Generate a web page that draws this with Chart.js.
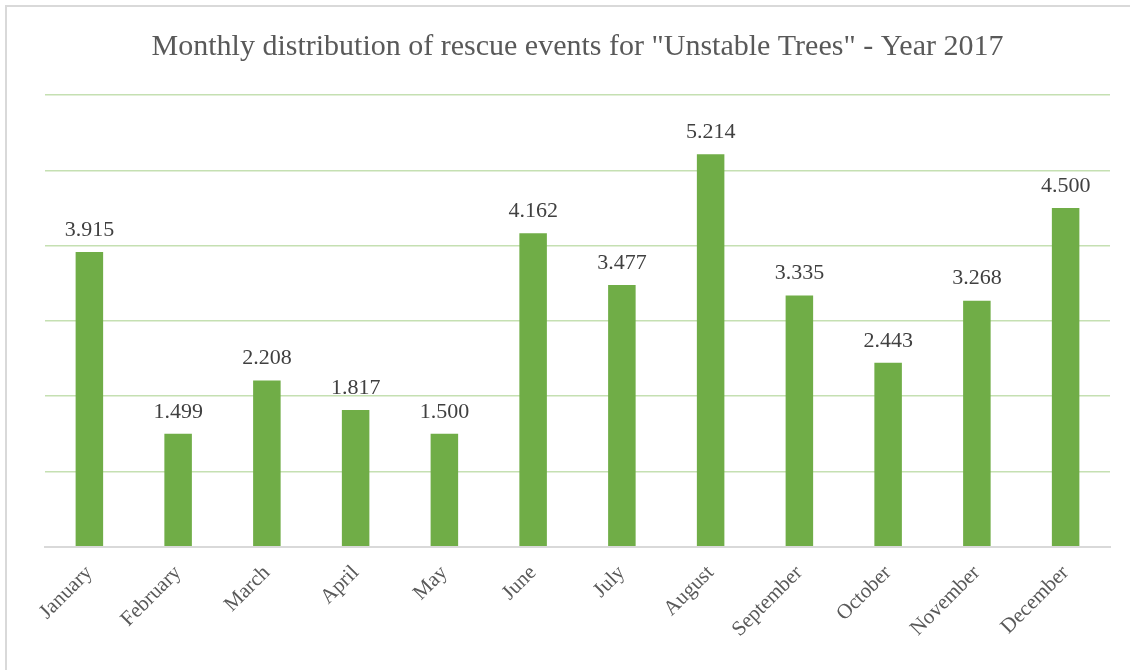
<!DOCTYPE html>
<html>
<head>
<meta charset="utf-8">
<script src="https://cdn.jsdelivr.net/npm/chart.js@4/dist/chart.umd.min.js"></script>
<style>
  html, body { margin: 0; padding: 0; background: #fff; }
  #wrap { position: relative; width: 1130px; height: 670px; }
  #frame { position: absolute; left: 5px; top: 5px; right: 0; bottom: 0; border-left: 2px solid #d9d9d9; border-top: 2px solid #d9d9d9; }
</style>
</head>
<body>
<div id="wrap">
  <div id="frame"></div>
  <canvas id="myChart" width="1130" height="670"></canvas>
</div>
<script>
const months = ['January', 'February', 'March', 'April', 'May', 'June', 'July', 'August', 'September', 'October', 'November', 'December'];
const events = [3915, 1499, 2208, 1817, 1500, 4162, 3477, 5214, 3335, 2443, 3268, 4500];
const yTicks = [0, 1000, 2000, 3000, 4000, 5000, 6000];

// 3915 -> "3.915"
function fmt(v) {
    return v.toString().replace(/\B(?=(\d{3})+(?!\d))/g, '.');
}

const valueLabels = {
    id: 'valueLabels',
    afterDatasetsDraw(chart) {
        const ctx = chart.ctx;
        const meta = chart.getDatasetMeta(0);
        ctx.save();
        ctx.font = '22px "Liberation Serif", "Times New Roman", serif';
        ctx.fillStyle = '#404040';
        ctx.textAlign = 'center';
        ctx.textBaseline = 'bottom';
        meta.data.forEach((bar, i) => {
            ctx.fillText(fmt(events[i]), bar.x, bar.y - 11);
        });
        ctx.restore();
    }
};

new Chart(document.getElementById('myChart'), {
    type: 'bar',
    data: {
        labels: months,
        datasets: [{
            label: 'Rescue events',
            data: events,
            backgroundColor: '#70ad47',
            categoryPercentage: 1,
            barPercentage: 0.31
        }]
    },
    options: {
        responsive: false,
        animation: false,
        layout: {
            padding: { left: 45, right: 20, top: 19, bottom: 22 }
        },
        plugins: {
            legend: { display: false },
            tooltip: { enabled: false },
            title: {
                display: true,
                text: 'Monthly distribution of rescue events for "Unstable Trees" - Year 2017',
                color: '#595959',
                font: { family: '"Liberation Serif", "Times New Roman", serif', size: 30, weight: 'normal' },
                padding: { top: 10, bottom: 30 }
            }
        },
        scales: {
            x: {
                grid: { display: false },
                border: { color: '#d9d9d9', width: 2 },
                ticks: {
                    color: '#595959',
                    minRotation: 45,
                    maxRotation: 45,
                    padding: 6,
                    font: { family: '"Liberation Serif", "Times New Roman", serif', size: 21 }
                }
            },
            y: {
                min: 0,
                max: 6000,
                afterBuildTicks: (axis) => { axis.ticks = yTicks.map(v => ({ value: v })); },
                border: { display: false },
                grid: {
                    drawTicks: false,
                    lineWidth: 1.5,
                    color: (c) => c.tick && c.tick.value === 0 ? '#d9d9d9' : '#c5e0b2'
                },
                ticks: { display: false }
            }
        }
    },
    plugins: [valueLabels]
});
</script>
</body>
</html>
